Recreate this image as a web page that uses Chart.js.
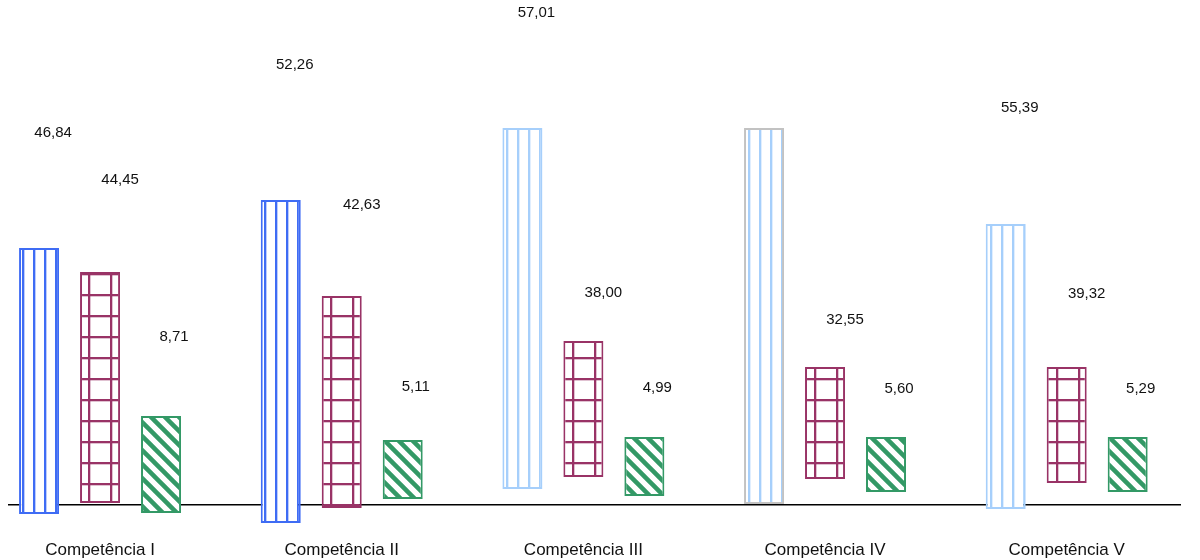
<!DOCTYPE html>
<html lang="pt-BR">
<head>
<meta charset="utf-8">
<title>Competências</title>
<script src="https://cdn.jsdelivr.net/npm/chart.js@4.4.1/dist/chart.umd.min.js"></script>
<style>
  html, body { margin: 0; padding: 0; background: #ffffff; }
  #wrap { width: 1200px; height: 560px; }
</style>
</head>
<body>
<div id="wrap"><canvas id="chart" width="1200" height="560"></canvas></div>
<script>
// Categorias do eixo horizontal
const categories = ['Competência I', 'Competência II', 'Competência III', 'Competência IV', 'Competência V'];

// Valores rotulados de cada série (em %)
const serie1Values = [46.84, 52.26, 57.01, null, 55.39];
const serie2Values = [44.45, 42.63, 38.00, 32.55, 39.32];
const serie3Values = [8.71, 5.11, 4.99, 5.60, 5.29];

// Extensão [base, topo] de cada barra, em unidades do eixo vertical
const serie1Range = [[-1.8, 51.4], [-3.6, 61.0], [3.2, 75.4], [0.2, 75.4], [-0.8, 56.2]];
const serie2Range = [[0.4, 46.6], [-0.6, 41.8], [5.6, 32.8], [5.2, 27.6], [4.4, 27.6]];
const serie3Range = [[-1.6, 17.8], [1.2, 13.0], [1.8, 13.6], [2.6, 13.6], [2.6, 13.6]];

// Altura (unidades do eixo vertical) em que cada rótulo de valor é escrito
const serie1LabelAt = [74.4, 88.0, 98.4, null, 79.4];
const serie2LabelAt = [65.0, 60.0, 42.4, 37.0, 42.2];
const serie3LabelAt = [33.6, 23.6, 23.4, 23.2, 23.2];

// ---- padrões de preenchimento ----
function tile(w, h, paint) {
  const c = document.createElement('canvas');
  c.width = w; c.height = h;
  const g = c.getContext('2d');
  g.fillStyle = '#ffffff';
  g.fillRect(0, 0, w, h);
  paint(g, w, h);
  return g.createPattern(c, 'repeat');
}

function verticalStripes(color) {
  return tile(11, 11, (g, w, h) => {
    g.fillStyle = color;
    g.fillRect(0, 0, 2, h);
    g.globalAlpha = 0.35;
    g.fillRect(2, 0, 1, h);
  });
}

function gridPattern(color) {
  return tile(22, 21, (g, w, h) => {
    g.fillStyle = color;
    g.fillRect(0, 0, 2, h);
    g.fillRect(0, 0, w, 2);
    g.globalAlpha = 0.3;
    g.fillRect(2, 0, 1, h);
    g.fillRect(0, 2, w, 1);
  });
}

function diagonalStripes(color) {
  return tile(14, 14, (g, w, h) => {
    g.strokeStyle = color;
    g.lineWidth = 4.5;
    g.beginPath();
    for (const k of [-w, 0, w]) {
      g.moveTo(k - 2, -2);
      g.lineTo(k + w + 2, h + 2);
    }
    g.stroke();
  });
}

const blueDark = '#3f6cf4';
const blueLight = '#a6cffb';
const magenta = '#993366';
const green = '#339966';

const darkStripes = verticalStripes(blueDark);
const lightStripes = verticalStripes(blueLight);

function toPoints(ranges) {
  return ranges.map((r, i) => ({ x: i, y: r }));
}

const fmt = v => v.toFixed(2).replace('.', ',');

// Escreve o valor de cada barra na altura indicada
const valueLabels = {
  id: 'valueLabels',
  afterDatasetsDraw(chart) {
    const ctx = chart.ctx;
    const yScale = chart.scales.y;
    ctx.save();
    ctx.fillStyle = '#111111';
    ctx.font = '15px "Liberation Sans", Arial, sans-serif';
    ctx.textAlign = 'center';
    ctx.textBaseline = 'middle';
    chart.data.datasets.forEach((ds, di) => {
      const meta = chart.getDatasetMeta(di);
      meta.data.forEach((bar, i) => {
        const v = ds.values[i];
        const at = ds.labelAt[i];
        if (v == null || at == null) return;
        ctx.fillText(fmt(v), bar.x + ds.labelShift, yScale.getPixelForValue(at));
      });
    });
    ctx.restore();
  }
};

new Chart(document.getElementById('chart'), {
  type: 'bar',
  data: {
    datasets: [
      {
        label: 'Série 1',
        data: toPoints(serie1Range),
        values: serie1Values,
        labelAt: serie1LabelAt,
        labelShift: 14,
        backgroundColor: [darkStripes, darkStripes, lightStripes, lightStripes, lightStripes],
        borderColor: [blueDark, blueDark, blueLight, '#c2c2c2', blueLight]
      },
      {
        label: 'Série 2',
        data: toPoints(serie2Range),
        values: serie2Values,
        labelAt: serie2LabelAt,
        labelShift: 20,
        backgroundColor: gridPattern(magenta),
        borderColor: magenta
      },
      {
        label: 'Série 3',
        data: toPoints(serie3Range),
        values: serie3Values,
        labelAt: serie3LabelAt,
        labelShift: 13,
        backgroundColor: diagonalStripes(green),
        borderColor: green
      }
    ]
  },
  options: {
    responsive: false,
    animation: false,
    devicePixelRatio: 1,
    layout: { padding: { left: 8, right: 19, top: 0, bottom: 0 } },
    datasets: {
      bar: {
        borderWidth: 2,
        borderSkipped: false,
        categoryPercentage: 0.757,
        barPercentage: 0.656
      }
    },
    plugins: {
      legend: { display: false },
      tooltip: { enabled: false },
      title: { display: false }
    },
    scales: {
      x: {
        type: 'linear',
        offset: false,
        min: -0.381,
        max: 4.473,
        grid: { display: false, drawTicks: false, offset: false },
        border: { display: false },
        afterFit: scale => { scale.height = 35; },
        ticks: {
          stepSize: 1,
          includeBounds: false,
          autoSkip: false,
          maxRotation: 0,
          padding: 15,
          color: '#111111',
          font: { family: '"Liberation Sans", Arial, sans-serif', size: 17 },
          callback: v => (Number.isInteger(v) && categories[v] !== undefined) ? categories[v] : ''
        }
      },
      y: {
        min: -4,
        max: 101,
        border: { display: false },
        grid: {
          drawTicks: false,
          lineWidth: 1.6,
          color: c => (c.tick && c.tick.value === 0) ? '#000000' : 'rgba(0,0,0,0)'
        },
        ticks: { display: false, stepSize: 10 }
      }
    }
  },
  plugins: [valueLabels]
});
</script>
</body>
</html>
